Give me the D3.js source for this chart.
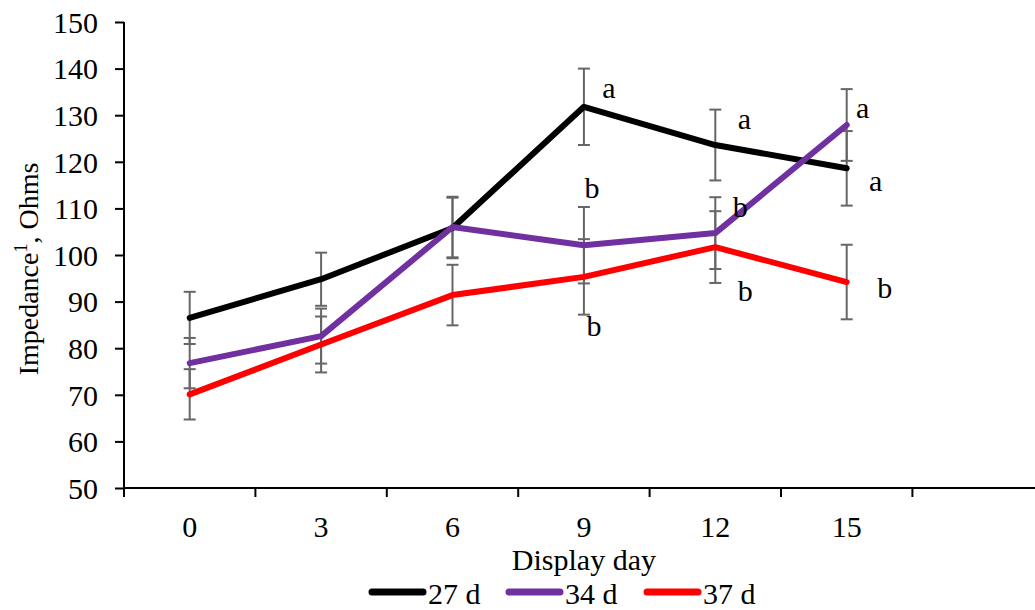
<!DOCTYPE html>
<html>
<head>
<meta charset="utf-8">
<script src="https://cdn.jsdelivr.net/npm/d3@7"></script>
<style>
  body { margin: 0; background: #fff; }
  svg text { font-family: "Liberation Serif", "Times New Roman", serif; fill: #000; }
</style>
</head>
<body>
<div id="chart"></div>
<script>
// display days (x categories)
const days = ["0", "3", "6", "9", "12", "15"];
const yTicks = [50, 60, 70, 80, 90, 100, 110, 120, 130, 140, 150];

// impedance means and error bars per aging period
const mean27 = [86.5, 94.8, 105.8, 131.8, 123.6, 118.6];
const err27  = [5.6, 5.7, 6.5, 8.2, 7.6, 8.0];
const mean34 = [76.8, 82.6, 106.0, 102.1, 104.7, 127.9];
const err34  = [5.4, 5.9, 6.5, 8.2, 7.7, 7.7];
const mean37 = [70.1, 80.8, 91.4, 95.3, 101.7, 94.2];
const err37  = [5.4, 6.0, 6.5, 8.1, 7.7, 8.0];

// significance letters
const sig27 = ["", "", "", "a", "a", "a"];
const sig34 = ["", "", "", "b", "b", "a"];
const sig37 = ["", "", "", "b", "b", "b"];

const seriesNames = ["27 d", "34 d", "37 d"];

const width = 1035, height = 610;
const margin = {left: 124, top: 22, bottom: 122};
const serif = "Liberation Serif";

// letter offsets from the point (dx, baseline dy)
const letterOff = {
  "27 d": [null, null, null, [25, -9], [29, -16], [29, 23]],
  "34 d": [null, null, null, [8, -47], [25, -16], [16, -7]],
  "37 d": [null, null, null, [10, 59], [30, 54], [38, 16]]
};

const series = [
  {name: seriesNames[0], mean: mean27, err: err27, sig: sig27, color: "#000000"},
  {name: seriesNames[1], mean: mean34, err: err34, sig: sig34, color: "#7030A0"},
  {name: seriesNames[2], mean: mean37, err: err37, sig: sig37, color: "#FF0000"}
];

const svg = d3.select("#chart").append("svg")
    .attr("width", width)
    .attr("height", height)
    .attr("font-family", serif);

// 7 bands, the last one empty (Excel-style spare category)
const x = d3.scaleBand()
    .domain(days.concat(["_"]))
    .range([margin.left, margin.left + 7 * 131.4])
    .paddingInner(0).paddingOuter(0);

const y = d3.scaleLinear()
    .domain([50, 150])
    .range([height - margin.bottom, margin.top]);

const cx = d => x(d) + x.bandwidth() / 2;

// y axis
svg.append("g")
    .attr("transform", `translate(${margin.left},0)`)
    .call(d3.axisLeft(y).tickValues(yTicks).tickSize(9).tickPadding(17).tickFormat(d3.format("d")))
    .attr("font-family", serif)
    .attr("font-size", 30)
    .call(g => g.select(".domain").attr("stroke", "#000").attr("stroke-width", 2)
        .attr("d", `M0,${y(150)}V${y(50) + 9}`))
    .call(g => g.selectAll(".tick line").attr("stroke", "#000").attr("stroke-width", 2)
        .attr("x1", 0).attr("x2", -9))
    .call(g => g.selectAll(".tick text").attr("dy", "0.34em"));

// x axis line + boundary ticks
const xg = svg.append("g").attr("transform", `translate(0,${y(50)})`);
xg.append("line")
    .attr("x1", margin.left).attr("x2", width)
    .attr("stroke", "#000").attr("stroke-width", 2);
xg.selectAll("line.tk")
  .data(x.domain())
  .join("line")
    .attr("class", "tk")
    .attr("x1", d => x(d)).attr("x2", d => x(d))
    .attr("y1", 0).attr("y2", 9)
    .attr("stroke", "#000").attr("stroke-width", 2);
xg.selectAll("text")
  .data(days)
  .join("text")
    .attr("x", d => cx(d))
    .attr("y", 49)
    .attr("text-anchor", "middle")
    .attr("font-size", 30)
    .text(d => d);

// axis titles
svg.append("text")
    .attr("x", cx("9"))
    .attr("y", 570)
    .attr("text-anchor", "middle")
    .attr("font-size", 30)
    .text("Display day");

const yl = svg.append("text")
    .attr("transform", "translate(38,269) rotate(-90)")
    .attr("text-anchor", "middle")
    .attr("font-size", 28);
yl.append("tspan").text("Impedance");
yl.append("tspan").attr("font-size", 18).attr("dy", -11).text("1");
yl.append("tspan").attr("dy", 11).text(", Ohms");

// error bars
const ebar = svg.append("g")
    .attr("stroke", "#666")
    .attr("stroke-width", 2);
series.forEach(s => {
  days.forEach((d, i) => {
    const px = cx(d), lo = y(s.mean[i] - s.err[i]), hi = y(s.mean[i] + s.err[i]);
    ebar.append("line").attr("x1", px).attr("x2", px).attr("y1", lo).attr("y2", hi);
    ebar.append("line").attr("x1", px - 6).attr("x2", px + 6).attr("y1", lo).attr("y2", lo);
    ebar.append("line").attr("x1", px - 6).attr("x2", px + 6).attr("y1", hi).attr("y2", hi);
  });
});

// lines
const line = d3.line()
    .x((v, i) => cx(days[i]))
    .y(v => y(v));

svg.append("g").selectAll("path")
  .data(series)
  .join("path")
    .attr("fill", "none")
    .attr("stroke", d => d.color)
    .attr("stroke-width", 6)
    .attr("stroke-linecap", "round")
    .attr("stroke-linejoin", "round")
    .attr("d", d => line(d.mean));

// significance letters
series.forEach(s => {
  s.sig.forEach((l, i) => {
    if (!l) return;
    const off = letterOff[s.name][i];
    svg.append("text")
        .attr("x", cx(days[i]) + off[0])
        .attr("y", y(s.mean[i]) + off[1])
        .attr("text-anchor", "middle")
        .attr("font-size", 30)
        .text(l);
  });
});

// legend
const legend = svg.append("g").attr("transform", "translate(372,592)");
const itemX = [0, 137, 275];
series.forEach((s, i) => {
  const g = legend.append("g").attr("transform", `translate(${itemX[i]},0)`);
  g.append("line")
      .attr("x1", 0).attr("x2", 51)
      .attr("stroke", s.color).attr("stroke-width", 7)
      .attr("stroke-linecap", "round");
  g.append("text")
      .attr("x", 56).attr("y", 12)
      .attr("font-size", 30)
      .text(s.name);
});
</script>
</body>
</html>
